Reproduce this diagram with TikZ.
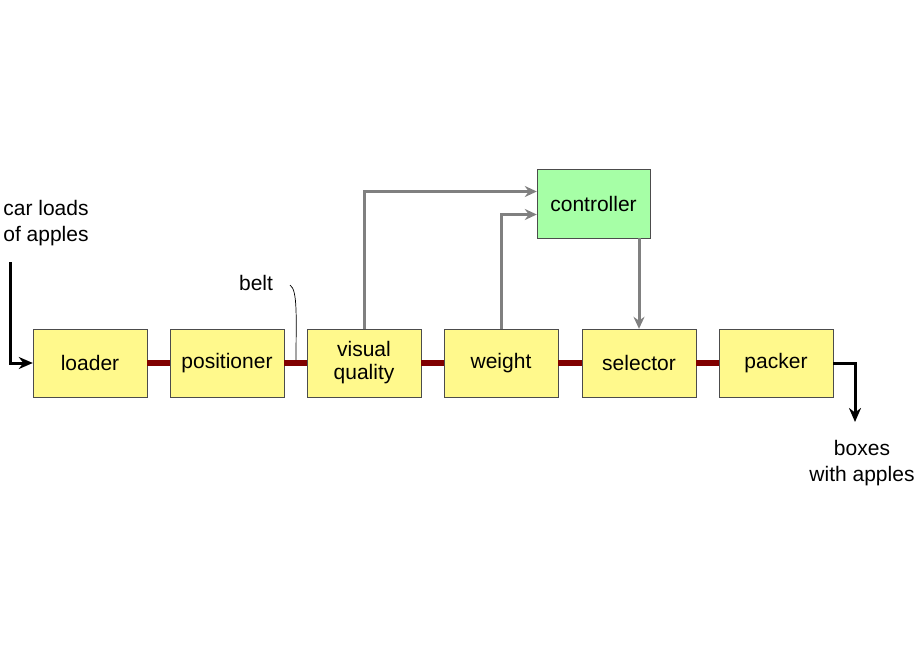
\documentclass[tikz,border=0pt]{standalone}
\usepackage{fontspec}
\setmainfont{Liberation Sans}
\usetikzlibrary{arrows.meta}
\begin{document}
\begin{tikzpicture}[x=1pt,y=-1pt,
  box/.style={draw=black!70,fill=yellow!45,minimum width=114pt,minimum height=68pt,inner sep=1pt,align=center,font=\fontsize{21}{23}\selectfont},
  belt/.style={draw=red!50!black,line width=6pt},
  ctrl/.style={draw=gray,line width=3pt,-{Stealth[length=12pt,width=11pt]}},
  io/.style={draw=black,line width=3pt,-{Stealth[length=14pt,width=12pt]}},
  lbl/.style={font=\fontsize{21}{26}\selectfont,align=center}]
\useasboundingbox (0,0) rectangle (920,660);
\node[box] (load) at (90,363) {loader};
\node[box] (pos) at (227,363) {positioner};
\node[box] (vis) at (364,363) {visual\\quality};
\node[box] (wei) at (501,363) {weight};
\node[box] (sel) at (639,363) {selector};
\node[box] (pack) at (776,363) {packer};
\node[box,fill=green!35,minimum width=113pt,minimum height=69pt] (ctl) at (593.5,203.5) {controller};
\foreach \a/\b in {load/pos,pos/vis,vis/wei,wei/sel,sel/pack} \draw[belt] (\a.east) -- (\b.west);
\draw[ctrl] (vis.north) |- ([yshift=12pt]ctl.west);
\draw[ctrl] (wei.north) |- ([yshift=-11pt]ctl.west);
\draw[ctrl] (ctl.south -| sel.north) -- (sel.north);
\node[lbl] (in) at (46,223) {car loads\\of apples};
\coordinate (ic) at (10,262);
\draw[io] (ic) |- (load.west);
\coordinate (oc) at (855,422);
\draw[io] (pack.east) -| (oc);
\node[lbl] (out) at (862,463) {boxes\\with apples};
\node[lbl] (belt) at (256,283) {belt};
\coordinate (bc) at (296,360);
\draw[black,line width=0.7pt] (290,285) .. controls (298,290) and (296,320) .. (bc);
\end{tikzpicture}
\end{document}
